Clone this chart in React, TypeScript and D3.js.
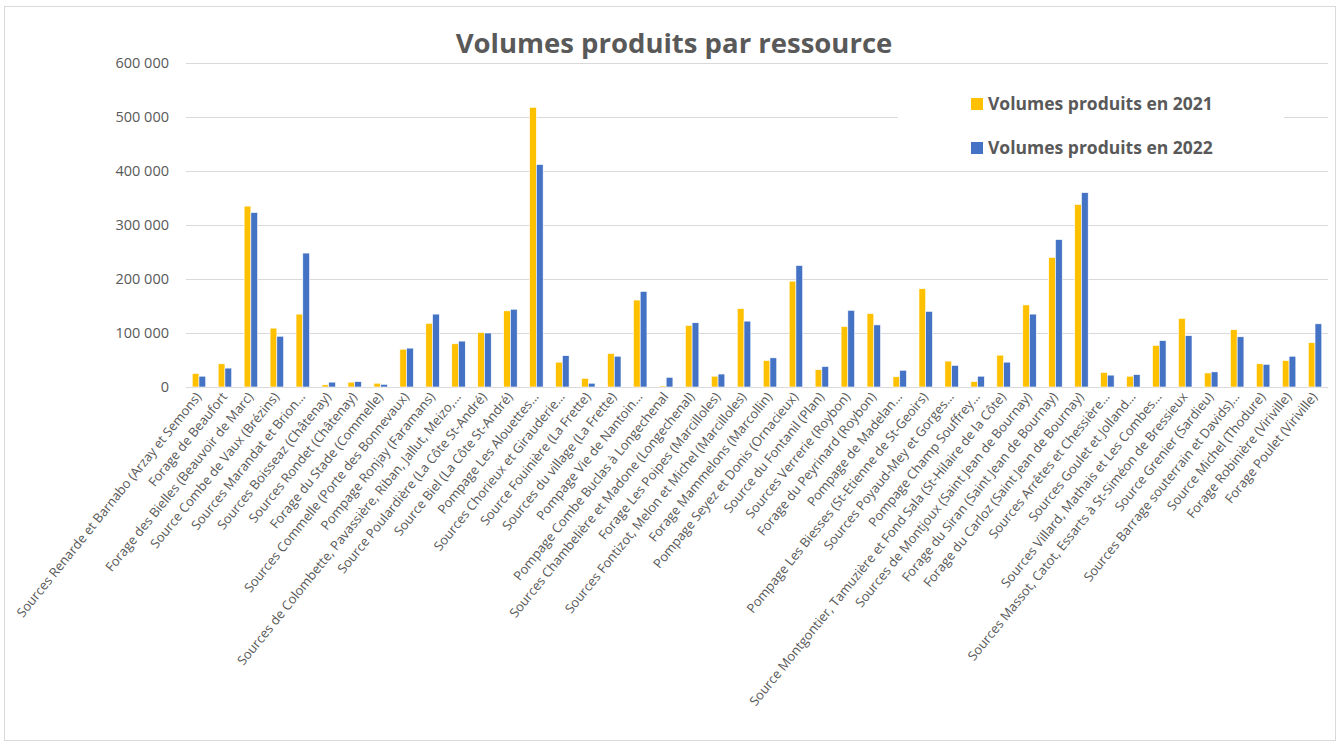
import { useEffect, useRef } from 'react'
import * as d3 from 'd3'

const categories = [
  "Sources Renarde et Barnabo (Arzay et Semons)",
  "Forage de Beaufort",
  "Forage des Bielles (Beauvoir de Marc)",
  "Source Combe de Vaux (Brézins)",
  "Sources Marandat et Brion…",
  "Sources Boisseaz (Châtenay)",
  "Sources Rondet (Châtenay)",
  "Forage du Stade (Commelle)",
  "Sources Commelle (Porte des Bonnevaux)",
  "Pompage Ronjay (Faramans)",
  "Sources de Colombette, Pavassière, Riban, Jallut, Meizo,…",
  "Source Poulardière (La Côte St-André)",
  "Source Biel (La Côte St-André)",
  "Pompage Les Alouettes…",
  "Sources Chorieux et Girauderie…",
  "Source Fouinière (La Frette)",
  "Sources du village (La Frette)",
  "Pompage Vie de Nantoin…",
  "Pompage Combe Buclas à Longechenal",
  "Sources Chambelière et Madone (Longechenal)",
  "Forage Les Poipes (Marcilloles)",
  "Sources Fontizot, Melon et Michel (Marcilloles)",
  "Forage Mammelons (Marcollin)",
  "Pompage Seyez et Donis (Ornacieux)",
  "Source du Fontanil (Plan)",
  "Sources Verrerie (Roybon)",
  "Forage du Peyrinard (Roybon)",
  "Pompage de Madelan…",
  "Pompage Les Biesses (St-Etienne de St-Geoirs)",
  "Sources Poyaud-Mey et Gorges…",
  "Pompage Champ Souffrey…",
  "Source Montgontier, Tamuzière et Fond Sala (St-Hilaire de la Côte)",
  "Sources de Montjoux (Saint Jean de Bournay)",
  "Forage du Siran (Saint Jean de Bournay)",
  "Forage du Carloz (Saint Jean de Bournay)",
  "Sources Arrêtes et Chessière…",
  "Sources Goulet et Jolland…",
  "Sources Villard, Mathais et Les Combes…",
  "Sources Massot, Catot, Essarts à St-Siméon de Bressieux",
  "Source Grenier (Sardieu)",
  "Sources Barrage souterrain et Davids)…",
  "Source Michel (Thodure)",
  "Forage Robinière (Viriville)",
  "Forage Poulet (Viriville)",
]

const volumes2021 = [
  25000, 43000, 335000, 109000, 135000, 4000, 9000, 7000, 70000, 118000,
  80000, 101000, 141000, 518000, 46000, 16000, 62000, 161000, 2000, 114000,
  20000, 145000, 49000, 196000, 32000, 112000, 136000, 19000, 182000, 48000,
  10000, 59000, 152000, 240000, 338000, 27000, 20000, 77000, 127000, 26000,
  106000, 43000, 49000, 82000,
]

const volumes2022 = [
  20000, 35000, 323000, 94000, 248000, 9000, 10000, 5000, 72000, 135000,
  85000, 100000, 144000, 412000, 58000, 7000, 57000, 177000, 18000, 119000,
  24000, 122000, 54000, 225000, 38000, 142000, 115000, 31000, 140000, 40000,
  20000, 46000, 135000, 273000, 360000, 22000, 23000, 86000, 95000, 28000,
  93000, 42000, 57000, 117000,
]

const seriesNames = ["Volumes produits en 2021", "Volumes produits en 2022"]
const seriesColors = ["#FFC000", "#4472C4"]
const yTicks = [0, 100000, 200000, 300000, 400000, 500000, 600000]

export default function App() {
  const svgRef = useRef<SVGSVGElement>(null)

  useEffect(() => {
    if (!svgRef.current) return
    const svg = d3.select(svgRef.current)
    svg.selectAll("*").remove()

    const width = 1338
    const height = 742
    const left = 186, right = 1328, top = 63, bottom = 387
    const textColor = "#595959"
    const font = "'Open Sans', sans-serif"

    svg.attr("width", width).attr("height", height)

    svg.append("rect")
      .attr("x", 4.5).attr("y", 6.5)
      .attr("width", 1331).attr("height", 734)
      .attr("fill", "#fff")
      .attr("stroke", "#d9d9d9")

    const x = d3.scaleBand<string>()
      .domain(categories)
      .range([left, right])
      .paddingInner(0.48)
      .paddingOuter(0.24)

    const xSub = d3.scaleBand<number>()
      .domain([0, 1])
      .range([0, x.bandwidth()])

    const y = d3.scaleLinear().domain([0, 600000]).range([bottom, top])
    const fmt = (v: number) => d3.format(",")(v).replace(/,/g, " ")

    // gridlines
    svg.append("g")
      .selectAll("line")
      .data(yTicks)
      .enter().append("line")
      .attr("x1", left).attr("x2", right)
      .attr("y1", d => Math.round(y(d)) + 0.5)
      .attr("y2", d => Math.round(y(d)) + 0.5)
      .attr("stroke", "#d9d9d9")
      .attr("stroke-width", 1)

    svg.append("g")
      .selectAll("text")
      .data(yTicks)
      .enter().append("text")
      .attr("x", 169)
      .attr("y", d => y(d))
      .attr("dy", "0.35em")
      .attr("text-anchor", "end")
      .style("font-family", font)
      .style("font-size", "14.5px")
      .style("fill", textColor)
      .text(d => fmt(d))

    // bars
    const series = [volumes2021, volumes2022]
    const groups = svg.append("g")
      .selectAll("g")
      .data(categories)
      .enter().append("g")
      .attr("transform", d => `translate(${x(d)},0)`)

    groups.selectAll("rect")
      .data((_, i) => series.map((s, k) => ({ k, v: s[i] })))
      .enter().append("rect")
      .attr("x", d => xSub(d.k)!)
      .attr("width", xSub.bandwidth())
      .attr("y", d => y(d.v))
      .attr("height", d => bottom - y(d.v))
      .attr("fill", d => seriesColors[d.k])
      .attr("stroke", "#fff")
      .attr("stroke-width", 0.6)

    // category labels
    svg.append("g")
      .selectAll("text")
      .data(categories)
      .enter().append("text")
      .attr("transform", d => `translate(${x(d)! + x.bandwidth() / 2 + 3},${bottom + 10}) rotate(-51)`)
      .attr("text-anchor", "end")
      .style("font-family", font)
      .style("font-size", "13px")
      .style("fill", textColor)
      .text(d => d)

    // title
    svg.append("text")
      .attr("x", 674)
      .attr("y", 53)
      .attr("text-anchor", "middle")
      .style("font-family", font)
      .style("font-size", "27.5px")
      .style("font-weight", "bold")
      .style("fill", textColor)
      .text("Volumes produits par ressource")

    // legend
    svg.append("rect")
      .attr("x", 898).attr("y", 72)
      .attr("width", 386).attr("height", 94)
      .attr("fill", "#fff")

    const legend = svg.append("g")
      .selectAll("g")
      .data(seriesNames)
      .enter().append("g")
      .attr("transform", (_, i) => `translate(971,${98 + i * 44})`)

    legend.append("rect")
      .attr("width", 12).attr("height", 12)
      .attr("fill", (_, i) => seriesColors[i])

    legend.append("text")
      .attr("x", 17)
      .attr("y", 12)
      .style("font-family", font)
      .style("font-size", "17.5px")
      .style("font-weight", "bold")
      .style("fill", textColor)
      .text(d => d)
  }, [])

  return (
    <div style={{ position: "absolute", left: 0, top: 0 }}>
      <svg ref={svgRef} style={{ display: "block" }}></svg>
    </div>
  )
}
